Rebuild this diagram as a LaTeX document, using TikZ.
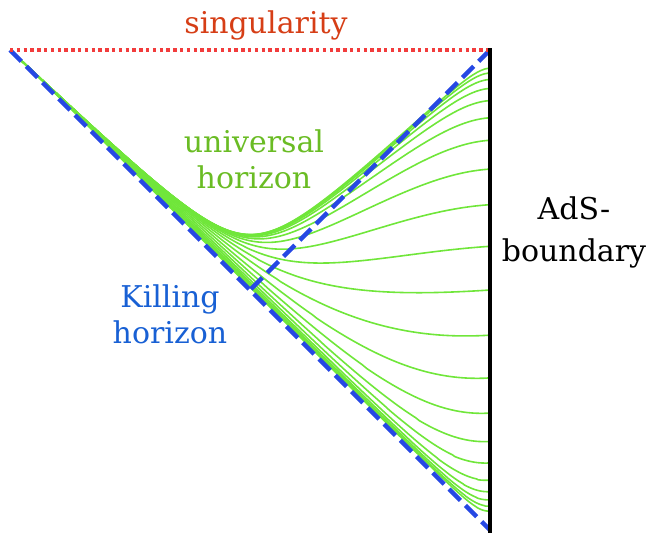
\documentclass[tikz,border=0pt]{standalone}
\usepackage{fontspec}
\setmainfont{DejaVu Serif}
\definecolor{curvegreen}{RGB}{112,230,58}
\definecolor{hblue}{RGB}{38,72,228}
\definecolor{sred}{RGB}{242,60,60}
\definecolor{singtext}{RGB}{214,62,22}
\definecolor{uhtext}{RGB}{106,188,36}
\definecolor{khtext}{RGB}{24,96,212}
\tikzset{
  slice/.style={curvegreen,line width=1.6pt,line join=round},
  killing/.style={hblue,line width=4.4pt,dash pattern=on 16pt off 7pt},
  singline/.style={sred,line width=3.6pt,dash pattern=on 3.4pt off 3.4pt},
  bdry/.style={black,line width=4.5pt},
  lbl/.style={font=\fontsize{30}{36}\selectfont,inner sep=0pt,align=center}
}
\begin{document}
\begin{tikzpicture}[x=1pt,y=-1pt,
  declare function={
    Bv(\a,\L)=0.034/tan(\a)-1.034*exp(max(-9,0.818*ln(tan(\a))-1.818*(\L)));
    Vv(\a,\L)=16/3*atan(Bv(\a,\L));
    px(\a,\L)=(16/3*\a-Vv(\a,\L)+500)/2;
    py(\a,\L)=(580-16/3*\a-Vv(\a,\L))/2;
  }]
\useasboundingbox (0,0) rectangle (655,533);
\coordinate (TL) at (10,50);
\coordinate (TR) at (490,50);
\coordinate (BR) at (490,530);
\coordinate (M) at (250,290);
\coordinate (Btop) at (490,48);
\coordinate (Bbot) at (490,533);
% constant-khronon slices
\foreach \L in {-2.78,-2.54,-2.31,-2.07,-1.80,-1.50,-1.21,-0.91,-0.61,-0.30,0.0,0.29,0.59,0.89,1.19,1.49,1.79,2.07,2.34,2.59,2.83}{
  \pgfmathsetmacro\amax{atan(exp(\L))}
  \draw[slice] plot[variable=\t,domain=0:1,samples=160]
    ({px(0.02+(\amax-0.02)*\t*\t,\L)},{py(0.02+(\amax-0.02)*\t*\t,\L)});
}
% horizons, singularity, boundary
\draw[killing] (TL) -- (BR);
\draw[killing] (TR) -- (M);
\draw[singline] (TL) -- (TR);
\draw[bdry] (Btop) -- (Bbot);
% labels
\node[lbl,text=singtext,anchor=base] (sing) at (266,33) {singularity};
\node[lbl,text=uhtext,anchor=base] (uh) at (254,188) {universal\\horizon};
\node[lbl,text=khtext,anchor=base] (kh) at (170,343) {Killing\\horizon};
\node[lbl,text=black,anchor=base,font=\fontsize{30}{42}\selectfont] (ads) at (574,261) {AdS-\\boundary};
\end{tikzpicture}
\end{document}
